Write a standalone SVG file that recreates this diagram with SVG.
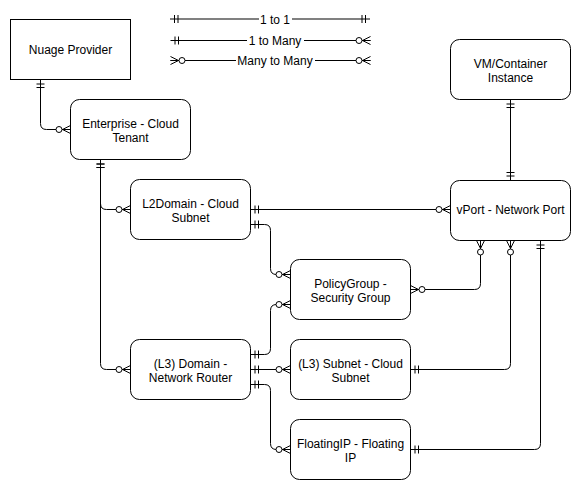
<svg xmlns="http://www.w3.org/2000/svg" width="581" height="490" viewBox="0 0 581 490">
<style>
.box{fill:#fff;stroke:#000;stroke-width:1}
.t{font-family:"Liberation Sans",Arial,sans-serif;font-size:12px;fill:#000;text-anchor:middle}
.e{fill:none;stroke:#000;stroke-width:1}
.m1{marker-start:url(#one);marker-end:url(#one)}
</style>
<defs>
<marker id="one" markerUnits="userSpaceOnUse" markerWidth="30" markerHeight="30" viewBox="-15 -15 30 30" refX="0" refY="0" orient="auto-start-reverse" overflow="visible">
<path d="M-4.5,-4 V4 M-8,-4 V4" fill="none" stroke="#000" stroke-width="1"/>
</marker>
<marker id="many" markerUnits="userSpaceOnUse" markerWidth="30" markerHeight="30" viewBox="-15 -15 30 30" refX="0" refY="0" orient="auto-start-reverse" overflow="visible">
<path d="M-8,0 L0,-4 M-8,0 L0,0 M-8,0 L0,4" fill="none" stroke="#000" stroke-width="1"/>
<circle cx="-11.5" cy="0" r="3" fill="#fff" stroke="#000" stroke-width="1"/>
</marker>
</defs>
<g id="legend">
<path d="M170,19 H370" fill="none" stroke="#808080" stroke-width="2" marker-start="url(#one)" marker-end="url(#one)"/>
<rect x="259" y="12" width="33" height="14" fill="#fff"/>
<text class="t" x="275" y="23.5">1 to 1</text>
<path d="M170.5,40.5 H370.5" class="e" marker-start="url(#one)" marker-end="url(#many)"/>
<rect x="247" y="33" width="57" height="14" fill="#fff"/>
<text class="t" x="275" y="44.5">1 to Many</text>
<path d="M170.5,60.5 H370.5" class="e" marker-start="url(#many)" marker-end="url(#many)"/>
<rect x="236" y="53" width="79" height="14" fill="#fff"/>
<text class="t" x="275" y="64.5">Many to Many</text>
</g>
<g id="connectors">
<path class="e" d="M40.5,79.5 V123.5 Q40.5,129.5 46.5,129.5 H70.5" marker-start="url(#one)" marker-end="url(#many)"/>
<path class="e" d="M100.5,159.5 V203.5 Q100.5,209.5 106.5,209.5 H130.5" marker-start="url(#one)" marker-end="url(#many)"/>
<path class="e" d="M100.5,159.5 V363.5 Q100.5,369.5 106.5,369.5 H130.5" marker-start="url(#one)" marker-end="url(#many)"/>
<path class="e" d="M250.5,209.5 H450.5" marker-start="url(#one)" marker-end="url(#many)"/>
<path class="e" d="M250.5,224.5 H264.5 Q270.5,224.5 270.5,230.5 V268.5 Q270.5,274.5 276.5,274.5 H290.5" marker-start="url(#one)" marker-end="url(#many)"/>
<path class="e" d="M250.5,354.5 H264.5 Q270.5,354.5 270.5,348.5 V310.5 Q270.5,304.5 276.5,304.5 H290.5" marker-start="url(#one)" marker-end="url(#many)"/>
<path class="e" d="M250.5,369.5 H290.5" marker-start="url(#one)" marker-end="url(#many)"/>
<path class="e" d="M250.5,384.5 H264.5 Q270.5,384.5 270.5,390.5 V443.5 Q270.5,449.5 276.5,449.5 H290.5" marker-start="url(#one)" marker-end="url(#many)"/>
<path class="e" d="M410.5,289.5 H474.5 Q480.5,289.5 480.5,283.5 V240.5" marker-start="url(#many)" marker-end="url(#many)"/>
<path class="e" d="M410.5,369.5 H504.5 Q510.5,369.5 510.5,363.5 V240.5" marker-start="url(#one)" marker-end="url(#many)"/>
<path class="e" d="M410.5,449.5 H534.5 Q540.5,449.5 540.5,443.5 V240.5" marker-start="url(#one)" marker-end="url(#one)"/>
<path class="e" d="M510.5,99.5 V180.5" marker-start="url(#one)" marker-end="url(#one)"/>
</g>
<g id="nuage">
<rect class="box" x="10.5" y="19.5" width="120" height="60"/>
<text class="t" x="70.5" y="53.5">Nuage Provider</text>
</g>
<g id="enterprise">
<rect class="box" x="70.5" y="99.5" width="120" height="60" rx="9"/>
<text class="t" x="130.5" y="127.5">Enterprise - Cloud</text>
<text class="t" x="130.5" y="141.5">Tenant</text>
</g>
<g id="l2domain">
<rect class="box" x="130.5" y="179.5" width="120" height="60" rx="9"/>
<text class="t" x="190.5" y="207.5">L2Domain - Cloud</text>
<text class="t" x="190.5" y="221.5">Subnet</text>
</g>
<g id="policygroup">
<rect class="box" x="290.5" y="259.5" width="120" height="60" rx="9"/>
<text class="t" x="350.5" y="287.5">PolicyGroup -</text>
<text class="t" x="350.5" y="301.5">Security Group</text>
</g>
<g id="l3domain">
<rect class="box" x="130.5" y="339.5" width="120" height="60" rx="9"/>
<text class="t" x="190.5" y="367.5">(L3) Domain -</text>
<text class="t" x="190.5" y="381.5">Network Router</text>
</g>
<g id="l3subnet">
<rect class="box" x="290.5" y="339.5" width="120" height="60" rx="9"/>
<text class="t" x="350.5" y="367.5">(L3) Subnet - Cloud</text>
<text class="t" x="350.5" y="381.5">Subnet</text>
</g>
<g id="floatingip">
<rect class="box" x="290.5" y="419.5" width="120" height="60" rx="9"/>
<text class="t" x="350.5" y="447.5">FloatingIP - Floating</text>
<text class="t" x="350.5" y="461.5">IP</text>
</g>
<g id="vm">
<rect class="box" x="450.5" y="39.5" width="120" height="60" rx="9"/>
<text class="t" x="510.5" y="67.5">VM/Container</text>
<text class="t" x="510.5" y="81.5">Instance</text>
</g>
<g id="vport">
<rect class="box" x="450.5" y="180.5" width="120" height="60" rx="9"/>
<text class="t" x="510.5" y="214">vPort - Network Port</text>
</g>
</svg>
